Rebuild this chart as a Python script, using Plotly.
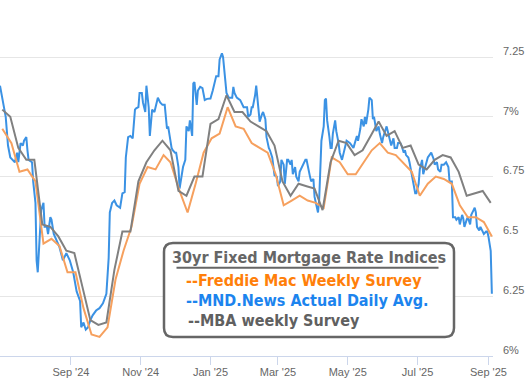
import plotly.graph_objects as go

# ---------------- data ----------------
fm_dates = ['2024-07-03','2024-07-11','2024-07-18','2024-07-25','2024-08-01','2024-08-08','2024-08-15',
            '2024-08-22','2024-08-29','2024-09-05','2024-09-12','2024-09-19','2024-09-26','2024-10-03',
            '2024-10-10','2024-10-17','2024-10-24','2024-10-31','2024-11-07','2024-11-14','2024-11-21',
            '2024-11-27','2024-12-05','2024-12-12','2024-12-19','2024-12-26','2025-01-02','2025-01-09',
            '2025-01-16','2025-01-23','2025-01-30','2025-02-06','2025-02-13','2025-02-20','2025-02-27',
            '2025-03-06','2025-03-13','2025-03-20','2025-03-27','2025-04-03','2025-04-10','2025-04-17',
            '2025-04-24','2025-05-01','2025-05-08','2025-05-15','2025-05-22','2025-05-29','2025-06-05',
            '2025-06-12','2025-06-18','2025-06-26','2025-07-03','2025-07-10','2025-07-17','2025-07-24',
            '2025-07-31','2025-08-07','2025-08-14','2025-08-21','2025-08-28','2025-09-04']
fm_vals = [6.95,6.89,6.77,6.78,6.73,6.47,6.49,6.46,6.35,6.35,6.20,6.09,6.08,6.12,6.32,6.44,6.54,6.72,
           6.79,6.78,6.84,6.81,6.69,6.60,6.72,6.85,6.91,6.93,7.04,6.96,6.95,6.89,6.87,6.85,6.76,6.63,
           6.65,6.67,6.65,6.64,6.62,6.83,6.81,6.76,6.76,6.81,6.86,6.89,6.85,6.84,6.81,6.77,6.67,6.72,
           6.75,6.74,6.72,6.63,6.58,6.58,6.56,6.50]

mba_dates = ['2024-07-03','2024-07-10','2024-07-17','2024-07-24','2024-07-31','2024-08-07','2024-08-14',
             '2024-08-21','2024-08-28','2024-09-04','2024-09-11','2024-09-18','2024-09-25','2024-10-02',
             '2024-10-09','2024-10-16','2024-10-23','2024-10-30','2024-11-06','2024-11-13','2024-11-20',
             '2024-11-27','2024-12-04','2024-12-11','2024-12-18','2024-12-25','2025-01-01','2025-01-08',
             '2025-01-15','2025-01-22','2025-01-29','2025-02-05','2025-02-12','2025-02-19','2025-02-26',
             '2025-03-05','2025-03-12','2025-03-19','2025-03-26','2025-04-02','2025-04-09','2025-04-16',
             '2025-04-23','2025-04-30','2025-05-07','2025-05-14','2025-05-21','2025-05-28','2025-06-04',
             '2025-06-11','2025-06-18','2025-06-25','2025-07-02','2025-07-09','2025-07-16','2025-07-23',
             '2025-07-30','2025-08-06','2025-08-13','2025-08-20','2025-08-27','2025-09-03']
mba_vals = [7.03,7.00,6.87,6.82,6.82,6.55,6.54,6.50,6.44,6.43,6.29,6.15,6.13,6.14,6.36,6.52,6.52,6.73,
            6.81,6.86,6.90,6.86,6.69,6.67,6.75,6.75,6.97,6.99,7.09,7.02,7.02,6.98,6.96,6.94,6.88,6.73,
            6.67,6.72,6.71,6.70,6.61,6.81,6.90,6.89,6.84,6.86,6.92,6.98,6.92,6.94,6.87,6.88,6.80,6.78,
            6.82,6.84,6.83,6.77,6.67,6.68,6.69,6.64]

mnd_dates = ['2024-07-01','2024-07-04','2024-07-06','2024-07-08','2024-07-10','2024-07-12','2024-07-14',
             '2024-07-16','2024-07-17','2024-07-19','2024-07-21','2024-07-22','2024-07-24','2024-07-25',
             '2024-07-26','2024-07-29','2024-07-30','2024-08-01','2024-08-02','2024-08-03','2024-08-05',
             '2024-08-06','2024-08-08','2024-08-09','2024-08-11','2024-08-12','2024-08-14','2024-08-15',
             '2024-08-17','2024-08-20','2024-08-22','2024-08-25','2024-08-28','2024-08-31','2024-09-03',
             '2024-09-06','2024-09-09','2024-09-10','2024-09-12','2024-09-14','2024-09-16','2024-09-18',
             '2024-09-20','2024-09-23','2024-09-26','2024-09-29','2024-10-01','2024-10-02','2024-10-04',
             '2024-10-05','2024-10-07','2024-10-09','2024-10-11','2024-10-14','2024-10-16','2024-10-18',
             '2024-10-19','2024-10-21','2024-10-23','2024-10-25','2024-10-27','2024-10-28','2024-10-30',
             '2024-10-31','2024-11-02','2024-11-03','2024-11-05','2024-11-06','2024-11-08','2024-11-09',
             '2024-11-11','2024-11-13','2024-11-14','2024-11-16','2024-11-18','2024-11-20','2024-11-22',
             '2024-11-24','2024-11-25','2024-11-27','2024-11-28','2024-11-29','2024-12-01','2024-12-02',
             '2024-12-04','2024-12-05','2024-12-07','2024-12-08','2024-12-10','2024-12-11','2024-12-13',
             '2024-12-14','2024-12-16','2024-12-17','2024-12-18','2024-12-20','2024-12-21','2024-12-23',
             '2024-12-25','2024-12-27','2024-12-29','2025-01-01','2025-01-03','2025-01-05','2025-01-06',
             '2025-01-08','2025-01-09','2025-01-11','2025-01-12','2025-01-14','2025-01-15','2025-01-17',
             '2025-01-18','2025-01-20','2025-01-21','2025-01-22','2025-01-24','2025-01-27','2025-01-30',
             '2025-02-02','2025-02-03','2025-02-05','2025-02-06','2025-02-07','2025-02-09','2025-02-10',
             '2025-02-12','2025-02-13','2025-02-15','2025-02-16','2025-02-18','2025-02-19','2025-02-21',
             '2025-02-22','2025-02-24','2025-02-25','2025-02-26','2025-02-28','2025-03-01','2025-03-03',
             '2025-03-04','2025-03-06','2025-03-07','2025-03-09','2025-03-10','2025-03-12','2025-03-13',
             '2025-03-14','2025-03-16','2025-03-17','2025-03-19','2025-03-20','2025-03-22','2025-03-23',
             '2025-03-25','2025-03-26','2025-03-28','2025-03-29','2025-03-30','2025-04-01','2025-04-02',
             '2025-04-04','2025-04-05','2025-04-06','2025-04-07','2025-04-08','2025-04-10','2025-04-11',
             '2025-04-12','2025-04-13','2025-04-15','2025-04-16','2025-04-17','2025-04-18','2025-04-20',
             '2025-04-21','2025-04-23','2025-04-24','2025-04-26','2025-04-27','2025-04-29','2025-04-30',
             '2025-05-03','2025-05-06','2025-05-09','2025-05-10','2025-05-12','2025-05-13','2025-05-15',
             '2025-05-16','2025-05-17','2025-05-19','2025-05-20','2025-05-22','2025-05-23','2025-05-24',
             '2025-05-26','2025-05-28','2025-05-29','2025-05-31','2025-06-01','2025-06-02','2025-06-04',
             '2025-06-05','2025-06-07','2025-06-08','2025-06-10','2025-06-11','2025-06-13','2025-06-14',
             '2025-06-16','2025-06-17','2025-06-19','2025-06-20','2025-06-21','2025-06-23','2025-06-24',
             '2025-06-26','2025-06-27','2025-06-29','2025-06-30','2025-07-02','2025-07-03','2025-07-05',
             '2025-07-06','2025-07-07','2025-07-09','2025-07-10','2025-07-13','2025-07-15','2025-07-16',
             '2025-07-18','2025-07-19','2025-07-21','2025-07-22','2025-07-24','2025-07-26','2025-07-28',
             '2025-07-29','2025-07-31','2025-08-01','2025-08-03','2025-08-04','2025-08-06','2025-08-07',
             '2025-08-09','2025-08-10','2025-08-11','2025-08-13','2025-08-14','2025-08-16','2025-08-17',
             '2025-08-19','2025-08-20','2025-08-21','2025-08-22','2025-08-24','2025-08-25','2025-08-27',
             '2025-08-28','2025-08-30','2025-08-31','2025-09-01','2025-09-02','2025-09-03','2025-09-04']
mnd_vals = [7.13,7.06,7.00,6.88,6.83,6.82,6.81,6.85,6.81,6.89,6.88,6.90,6.915,6.86,
            6.82,6.81,6.73,6.64,6.40,6.35,6.54,6.61,6.64,6.54,6.54,6.51,6.58,6.57,
            6.51,6.48,6.455,6.40,6.43,6.40,6.35,6.27,6.23,6.12,6.14,6.11,6.12,6.15,
            6.17,6.19,6.20,6.22,6.25,6.26,6.41,6.60,6.64,6.65,6.63,6.62,6.68,6.685,
            6.83,6.915,6.92,6.91,7.03,7.035,7.04,7.10,7.10,7.06,7.02,7.13,7.04,6.92,
            7.03,7.02,7.04,7.08,7.06,7.05,7.05,6.95,6.96,6.90,6.87,6.86,6.85,6.85,
            6.79,6.70,6.75,6.79,6.82,6.96,6.94,6.985,6.92,7.14,7.145,7.05,7.11,7.125,
            7.12,7.07,7.075,7.076,7.11,7.145,7.17,7.17,7.24,7.265,7.25,7.15,7.10,7.08,
            7.08,7.08,7.125,7.10,7.08,7.07,7.04,7.04,7.00,7.01,7.04,7.04,7.09,7.13,
            7.03,6.98,7.01,7.02,6.99,6.915,6.87,6.86,6.83,6.79,6.755,6.75,6.71,6.73,
            6.82,6.80,6.72,6.82,6.82,6.80,6.82,6.76,6.79,6.75,6.73,6.77,6.79,6.80,
            6.82,6.82,6.76,6.75,6.73,6.74,6.665,6.61,6.60,6.65,6.80,6.90,6.96,7.07,
            7.076,6.985,6.915,6.87,6.87,6.93,6.985,6.94,6.89,6.85,6.82,6.84,6.87,6.90,
            6.89,6.87,6.92,6.90,6.95,6.99,6.96,7.00,6.97,7.03,7.08,7.07,6.99,7.00,
            6.94,6.96,6.93,6.89,6.915,6.93,6.96,6.94,6.90,6.88,6.91,6.87,6.87,6.89,
            6.89,6.88,6.85,6.86,6.84,6.83,6.81,6.76,6.72,6.68,6.68,6.72,6.78,6.82,
            6.76,6.78,6.82,6.83,6.85,6.825,6.80,6.81,6.78,6.77,6.80,6.80,6.81,6.79,
            6.73,6.73,6.58,6.58,6.57,6.58,6.55,6.59,6.575,6.54,6.57,6.58,6.55,6.59,
            6.61,6.62,6.60,6.54,6.525,6.54,6.52,6.51,6.52,6.52,6.50,6.47,6.44,6.26]

tick_dates = ['2024-09-01','2024-11-01','2025-01-01','2025-03-01','2025-05-01','2025-07-01','2025-09-01']
tick_text = ["Sep '24", "Nov '24", "Jan '25", "Mar '25", "May '25", "Jul '25", "Sep '25"]
y_ticks = [6, 6.25, 6.5, 6.75, 7, 7.25]
y_text = ['6%', '6.25', '6.5', '6.75', '7%', '7.25']

legend_title = '30yr Fixed Mortgage Rate Indices'
legend_items = ['--Freddie Mac Weekly Survey', '--MND.News Actual Daily Avg.', '--MBA weekly Survey']

# ---------------- layout geometry ----------------
W, H = 525, 379
ML, MR, MT, MB = 0, 32, 0, 23
PW = W - ML - MR
PH = H - MT - MB

def px(x):
    return (x - ML) / PW

def py(y):
    return (H - MB - y) / PH

fig = go.Figure()
fig.add_trace(go.Scatter(x=mnd_dates, y=mnd_vals, mode='lines', line=dict(color='#3b92e4', width=2),
                         name=legend_items[1], hoverinfo='skip'))
fig.add_trace(go.Scatter(x=fm_dates, y=fm_vals, mode='lines', line=dict(color='#f6a05e', width=2),
                         name=legend_items[0], hoverinfo='skip'))
fig.add_trace(go.Scatter(x=mba_dates, y=mba_vals, mode='lines', line=dict(color='#808080', width=2),
                         name=legend_items[2], hoverinfo='skip'))

# rounded legend box
x0, x1, t, b, r = 164, 454, 243, 337, 9
def P(x, y):
    return f'{px(x):.5f},{py(y):.5f}'
path = (f'M {P(x0 + r, t)} L {P(x1 - r, t)} Q {P(x1, t)} {P(x1, t + r)} '
        f'L {P(x1, b - r)} Q {P(x1, b)} {P(x1 - r, b)} L {P(x0 + r, b)} '
        f'Q {P(x0, b)} {P(x0, b - r)} L {P(x0, t + r)} Q {P(x0, t)} {P(x0 + r, t)} Z')
shapes = [
    dict(type='path', path=path, xref='paper', yref='paper', fillcolor='white',
         line=dict(color='#666666', width=2.5), layer='above'),
    dict(type='line', xref='paper', yref='paper', x0=px(176.5), x1=px(438.5), y0=py(267.7), y1=py(267.7),
         line=dict(color='#666666', width=2), layer='above'),
]

FONT_B = 'DejaVu Sans Condensed, DejaVu Sans, Verdana, sans-serif'
annotations = [
    dict(text=f'<b>{legend_title}</b>', x=px(308.5), y=py(257.7), xref='paper', yref='paper',
         xanchor='center', yanchor='middle', showarrow=False,
         font=dict(family=FONT_B, size=16, color='#666666')),
]
item_colors = ['#ff7f0a', '#1c84ee', '#606060']
item_y = [280, 300, 320]
item_x = [183.5, 183.5, 185.5]
for txt, c, yy, xx in zip(legend_items, item_colors, item_y, item_x):
    annotations.append(dict(text=f'<b>{txt}</b>', x=px(xx), y=py(yy), xref='paper', yref='paper',
                            xanchor='left', yanchor='middle', showarrow=False,
                            font=dict(family=FONT_B, size=16, color=c)))

fig.update_layout(
    width=W, height=H,
    margin=dict(l=ML, r=MR, t=MT, b=MB, pad=0),
    paper_bgcolor='white', plot_bgcolor='white',
    showlegend=False,
    shapes=shapes, annotations=annotations,
    xaxis=dict(type='date', range=['2024-07-01', '2025-09-05'],
               tickvals=tick_dates, ticktext=tick_text,
               showgrid=False, zeroline=False,
               showline=True, linecolor='#ccd6eb', linewidth=1,
               ticks='outside', ticklen=8, tickcolor='#ccd6eb', tickwidth=1,
               ticklabelstandoff=-2,
               tickfont=dict(family='Liberation Sans, Arial, sans-serif', size=11, color='#666666')),
    yaxis=dict(range=[6, 6 + PH / 239.2], side='right',
               tickvals=y_ticks, ticktext=y_text,
               showgrid=True, gridcolor='#e6e6e6', gridwidth=1, zeroline=False,
               showline=False, ticks='',
               ticklabelstandoff=9, ticklabelshift=-6,
               tickfont=dict(family='Liberation Sans, Arial, sans-serif', size=11, color='#666666')),
)

fig.write_html('out.html', config={'displayModeBar': False},
               post_script="document.body.style.margin='0';")
